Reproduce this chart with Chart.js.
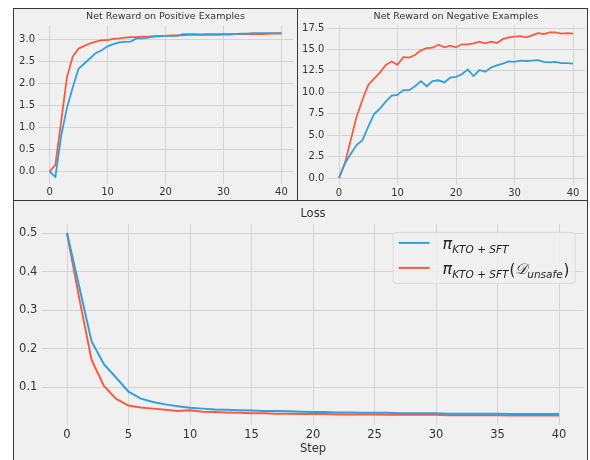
<!DOCTYPE html>
<html><head><meta charset="utf-8">
<script src="https://cdn.jsdelivr.net/npm/chart.js@4.4.1/dist/chart.umd.min.js"></script>
<style>
html,body{margin:0;padding:0;background:#fff;width:590px;height:460px;overflow:hidden;font-family:"DejaVu Sans";}
.box{position:absolute;box-sizing:border-box;border:1.5px solid #3a3a3a;background:#f0f0f0;}
canvas{position:absolute;}
</style></head><body>
<div class="box" style="left:13px;top:8px;width:285px;height:193px"></div>
<div class="box" style="left:297px;top:8px;width:291px;height:193px"></div>
<div class="box" style="left:13px;top:200px;width:575px;height:270px"></div>
<canvas id="c1" width="282" height="190" style="left:14px;top:9px"></canvas>
<canvas id="c2" width="289" height="190" style="left:298px;top:9px"></canvas>
<canvas id="c3" width="573" height="259" style="left:14px;top:201px"></canvas>
<script>
const steps = [0,1,2,3,4,5,6,7,8,9,10,11,12,13,14,15,16,17,18,19,20,21,22,23,24,25,26,27,28,29,30,31,32,33,34,35,36,37,38,39,40];

const posKTO = [0.00,-0.12,0.82,1.45,1.92,2.34,2.46,2.58,2.70,2.76,2.85,2.90,2.94,2.95,2.96,3.03,3.03,3.05,3.07,3.08,3.09,3.09,3.09,3.13,3.13,3.13,3.12,3.12,3.12,3.12,3.13,3.13,3.13,3.14,3.14,3.15,3.15,3.15,3.15,3.15,3.15];
const posUnsafe = [0.00,0.15,1.15,2.15,2.62,2.80,2.86,2.92,2.96,2.99,2.99,3.02,3.03,3.05,3.06,3.06,3.07,3.07,3.08,3.09,3.09,3.10,3.10,3.10,3.11,3.11,3.11,3.12,3.12,3.12,3.12,3.12,3.13,3.13,3.13,3.13,3.13,3.13,3.14,3.14,3.14];

const negKTO = [0,1.7,2.8,3.85,4.4,6.0,7.45,8.1,8.9,9.6,9.7,10.25,10.25,10.7,11.3,10.7,11.3,11.4,11.15,11.7,11.8,12.1,12.65,11.9,12.6,12.4,12.9,13.15,13.35,13.6,13.55,13.7,13.65,13.7,13.75,13.55,13.5,13.55,13.4,13.4,13.35];
const negUnsafe = [0,1.7,4.4,7.15,9.1,10.85,11.6,12.3,13.2,13.6,13.2,14.1,14.05,14.35,14.9,15.15,15.2,15.55,15.25,15.45,15.25,15.6,15.6,15.7,15.9,15.7,15.9,15.75,16.2,16.4,16.5,16.55,16.4,16.65,16.9,16.8,17.0,17.0,16.85,16.9,16.85];

const lossKTO = [0.5,0.36,0.219,0.16,0.125,0.089,0.071,0.062,0.056,0.051,0.047,0.045,0.043,0.042,0.041,0.040,0.039,0.039,0.038,0.037,0.036,0.036,0.035,0.035,0.034,0.034,0.034,0.033,0.033,0.033,0.033,0.032,0.032,0.032,0.032,0.032,0.031,0.031,0.031,0.031,0.031];
const lossUnsafe = [0.5,0.33,0.171,0.104,0.07,0.053,0.048,0.045,0.042,0.039,0.041,0.037,0.036,0.035,0.034,0.033,0.033,0.032,0.032,0.031,0.031,0.031,0.030,0.030,0.030,0.030,0.029,0.029,0.029,0.029,0.029,0.028,0.028,0.028,0.028,0.028,0.027,0.027,0.027,0.027,0.027];

const posYTicks = [0,0.5,1.0,1.5,2.0,2.5,3.0];
const negYTicks = [0,2.5,5,7.5,10,12.5,15,17.5];
const lossYTicks = [0.1,0.2,0.3,0.4,0.5];
const topXTicks = [0,10,20,30,40];
const lossXTicks = [0,5,10,15,20,25,30,35,40];

const titles = ['Net Reward on Positive Examples','Net Reward on Negative Examples','Loss'];
const xTitle = 'Step';

const BLUE = '#30a0dc', RED = '#fc5a40';
const GRID = '#d4d4d4', TXT = '#333333';

function pts(vals){ return steps.map((s,i)=>({x:s,y:vals[i]})); }
function dataRange(arrs){
  let mn=Infinity,mx=-Infinity;
  arrs.forEach(a=>a.forEach(v=>{mn=Math.min(mn,v);mx=Math.max(mx,v);}));
  const m=(mx-mn)*0.05; return [mn-m,mx+m];
}

// axes title centred over the plotting area (matplotlib style)
const axTitlePlugin = {
  id:'axTitle',
  afterDraw(chart,args,opts){
    const ctx=chart.ctx, ca=chart.chartArea;
    ctx.save();
    ctx.fillStyle=TXT; ctx.textAlign='center'; ctx.textBaseline='middle';
    ctx.font=opts.size+'px "DejaVu Sans"';
    ctx.fillText(opts.text,(ca.left+ca.right)/2,ca.top-opts.gap);
    ctx.restore();
  }
};

function make(id, a, b, yTicks, xTicks, o){
  const [ymin,ymax]=dataRange([a,b]);
  const xm=(steps[steps.length-1]-steps[0])*0.05;
  return new Chart(document.getElementById(id),{
    type:'line',
    data:{datasets:[
      {data:pts(a),borderColor:BLUE,borderWidth:o.lw,pointRadius:0,tension:0,fill:false},
      {data:pts(b),borderColor:RED,borderWidth:o.lw,pointRadius:0,tension:0,fill:false}
    ]},
    options:{
      responsive:false,animation:false,devicePixelRatio:1,
      layout:{padding:{left:0,right:o.padR,top:o.padT,bottom:0}},
      plugins:{
        legend:{display:false},tooltip:{enabled:false},title:{display:false},
        axTitle:{text:o.title,size:o.titleSize,gap:o.titleGap}
      },
      scales:{
        x:{type:'linear',min:steps[0]-xm,max:steps[steps.length-1]+xm,
          afterBuildTicks:s=>{s.ticks=xTicks.map(v=>({value:v}));},
          afterFit:s=>{s.height=o.xH;},
          grid:{color:GRID,lineWidth:1,drawTicks:false},border:{display:false},
          ticks:{color:TXT,padding:o.xPad,maxRotation:0,font:{family:'DejaVu Sans',size:o.tickSize},callback:v=>String(v)},
          title:{display:!!o.xTitle,text:o.xTitle||'',color:TXT,font:{family:'DejaVu Sans',size:o.tickSize},padding:{top:0,bottom:o.xTitlePad||0}}
        },
        y:{type:'linear',min:ymin,max:ymax,
          afterBuildTicks:s=>{s.ticks=yTicks.map(v=>({value:v}));},
          afterFit:s=>{s.width=o.yW;},
          grid:{color:GRID,lineWidth:1,drawTicks:false},border:{display:false},
          ticks:{color:TXT,padding:o.yPad,font:{family:'DejaVu Sans',size:o.tickSize},callback:v=>Number(v).toFixed(1)}
        }
      }
    },
    plugins:[axTitlePlugin].concat(o.plugins||[])
  });
}

const legendPlugin = {
  id:'mathLegend',
  afterDraw(chart){
    const ctx=chart.ctx, ca=chart.chartArea;
    const bx=ca.right-191, by=ca.top+8, bw=182, bh=51;
    ctx.save();
    ctx.fillStyle='rgba(240,240,240,0.8)';
    ctx.strokeStyle='#dadada'; ctx.lineWidth=1;
    ctx.beginPath(); ctx.roundRect(bx+0.5,by+0.5,bw,bh,3); ctx.fill(); ctx.stroke();
    const rows=[
      {c:BLUE,y:by+11,paren:false},
      {c:RED,y:by+36,paren:true}
    ];
    rows.forEach(r=>{
      ctx.strokeStyle=r.c; ctx.lineWidth=2;
      ctx.beginPath(); ctx.moveTo(bx+6,r.y); ctx.lineTo(bx+37,r.y); ctx.stroke();
      let x=bx+50; const base=r.y+6;
      ctx.fillStyle='#222'; ctx.textBaseline='alphabetic'; ctx.textAlign='left';
      ctx.font='italic 16px "DejaVu Sans"'; ctx.fillText('π',x,base); x+=ctx.measureText('π').width;
      ctx.font='italic 10.5px "DejaVu Sans"'; ctx.fillText('KTO + SFT',x,base+4); x+=ctx.measureText('KTO + SFT').width;
      if(r.paren){
        ctx.font='15px "DejaVu Sans"'; ctx.fillText('(',x+1,base+1); x+=ctx.measureText('(').width+1;
        ctx.font='italic 15px "DejaVu Serif"'; ctx.fillText('𝒟',x,base); x+=ctx.measureText('𝒟').width;
        ctx.font='italic 10.5px "DejaVu Sans"'; ctx.fillText('unsafe',x,base+4); x+=ctx.measureText('unsafe').width;
        ctx.font='15px "DejaVu Sans"'; ctx.fillText(')',x+1,base+1);
      }
    });
    ctx.restore();
  }
};

make('c1',posKTO,posUnsafe,posYTicks,topXTicks,{lw:1.8,padR:3,padT:17,title:titles[0],titleSize:9.5,titleGap:9,xH:15,xPad:2,yW:24,yPad:3,tickSize:10});
make('c2',negKTO,negUnsafe,negYTicks,topXTicks,{lw:1.8,padR:2.3,padT:16,title:titles[1],titleSize:9.5,titleGap:8,xH:13.7,xPad:2,yW:29.3,yPad:3,tickSize:10});
make('c3',lossKTO,lossUnsafe,lossYTicks,lossXTicks,{lw:2,padR:3.4,padT:22.9,title:titles[2],titleSize:11.5,titleGap:10,xH:35.3,xPad:3,yW:28.4,yPad:5,tickSize:11.5,xTitle:xTitle,xTitlePad:4,plugins:[legendPlugin]});
</script>
</body></html>
